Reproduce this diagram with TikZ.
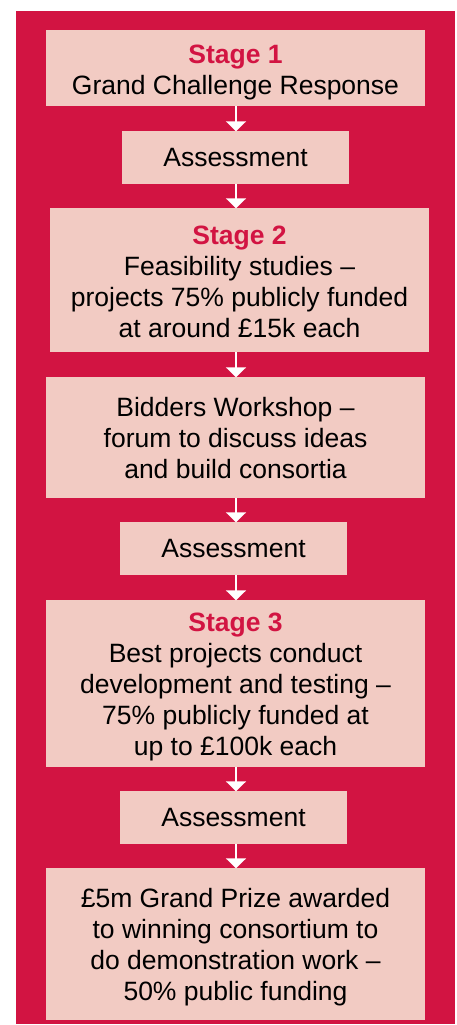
\documentclass[tikz,border=0pt]{standalone}
\usepackage{fontspec}
\setmainfont{Liberation Sans}
\usetikzlibrary{arrows.meta}
\definecolor{bgred}{RGB}{210,20,66}
\definecolor{boxpink}{RGB}{242,203,195}
\newcommand{\stg}[1]{{\bfseries\color{bgred}#1}}
\begin{document}
\begin{tikzpicture}[x=1pt,y=-1pt,
  box/.style={fill=boxpink, draw=none, inner sep=0pt},
  wide/.style={box, minimum width=379pt},
  small/.style={box, minimum width=227pt, minimum height=53pt},
  txt/.style={inner sep=0pt, align=center,
    font=\fontsize{26.5}{31}\selectfont, text=black},
  flowarrow/.style={draw=white, line width=2pt,
    -{Triangle[width=20pt,length=10pt]}, shorten >=-0.5pt}]
\useasboundingbox (0,0) rectangle (456,1025);
\fill[bgred] (16,11) rectangle (455,1024);
\coordinate (ax) at (236,0);
% boxes
\node[wide, minimum height=76pt] (b1) at (235.5,68) {};
\node[small] (a1) at (235.5,157.5) {};
\node[wide, minimum height=144pt] (b2) at (239.5,280) {};
\node[wide, minimum height=121pt] (b3) at (235.5,437.5) {};
\node[small] (a2) at (233.5,548.5) {};
\node[wide, minimum height=167pt] (b4) at (235.5,683.5) {};
\node[small] (a3) at (233.5,817.5) {};
\node[wide, minimum height=152pt] (b5) at (235.5,944) {};
% texts
\node[txt] (t1) at ([yshift=-4pt]b1.center) {\stg{Stage 1}\\Grand Challenge Response};
\node[txt] (s1) at (a1.center) {Assessment};
\node[txt] (t2) at ([yshift=-2pt]b2.center)
  {\stg{Stage 2}\\Feasibility studies --\\projects 75\% publicly funded\\at around £15k each};
\node[txt] (t3) at ([yshift=-1pt]b3.center)
  {Bidders Workshop --\\forum to discuss ideas\\and build consortia};
\node[txt] (s2) at (a2.center) {Assessment};
\node[txt] (t4) at ([yshift=-3pt]b4.center)
  {\stg{Stage 3}\\Best projects conduct\\development and testing --\\75\% publicly funded at\\up to £100k each};
\node[txt] (s3) at (a3.center) {Assessment};
\node[txt] (t5) at ([yshift=-3.5pt]b5.center)
  {£5m Grand Prize awarded\\to winning consortium to\\do demonstration work --\\50\% public funding};
% arrows
\draw[flowarrow] (b1.south -| ax) -- (a1.north -| ax);
\draw[flowarrow] (a1.south -| ax) -- (b2.north -| ax);
\draw[flowarrow] (b2.south -| ax) -- (b3.north -| ax);
\draw[flowarrow] (b3.south -| ax) -- (a2.north -| ax);
\draw[flowarrow] (a2.south -| ax) -- (b4.north -| ax);
\draw[flowarrow] (b4.south -| ax) -- (a3.north -| ax);
\draw[flowarrow] (a3.south -| ax) -- (b5.north -| ax);
\end{tikzpicture}
\end{document}
